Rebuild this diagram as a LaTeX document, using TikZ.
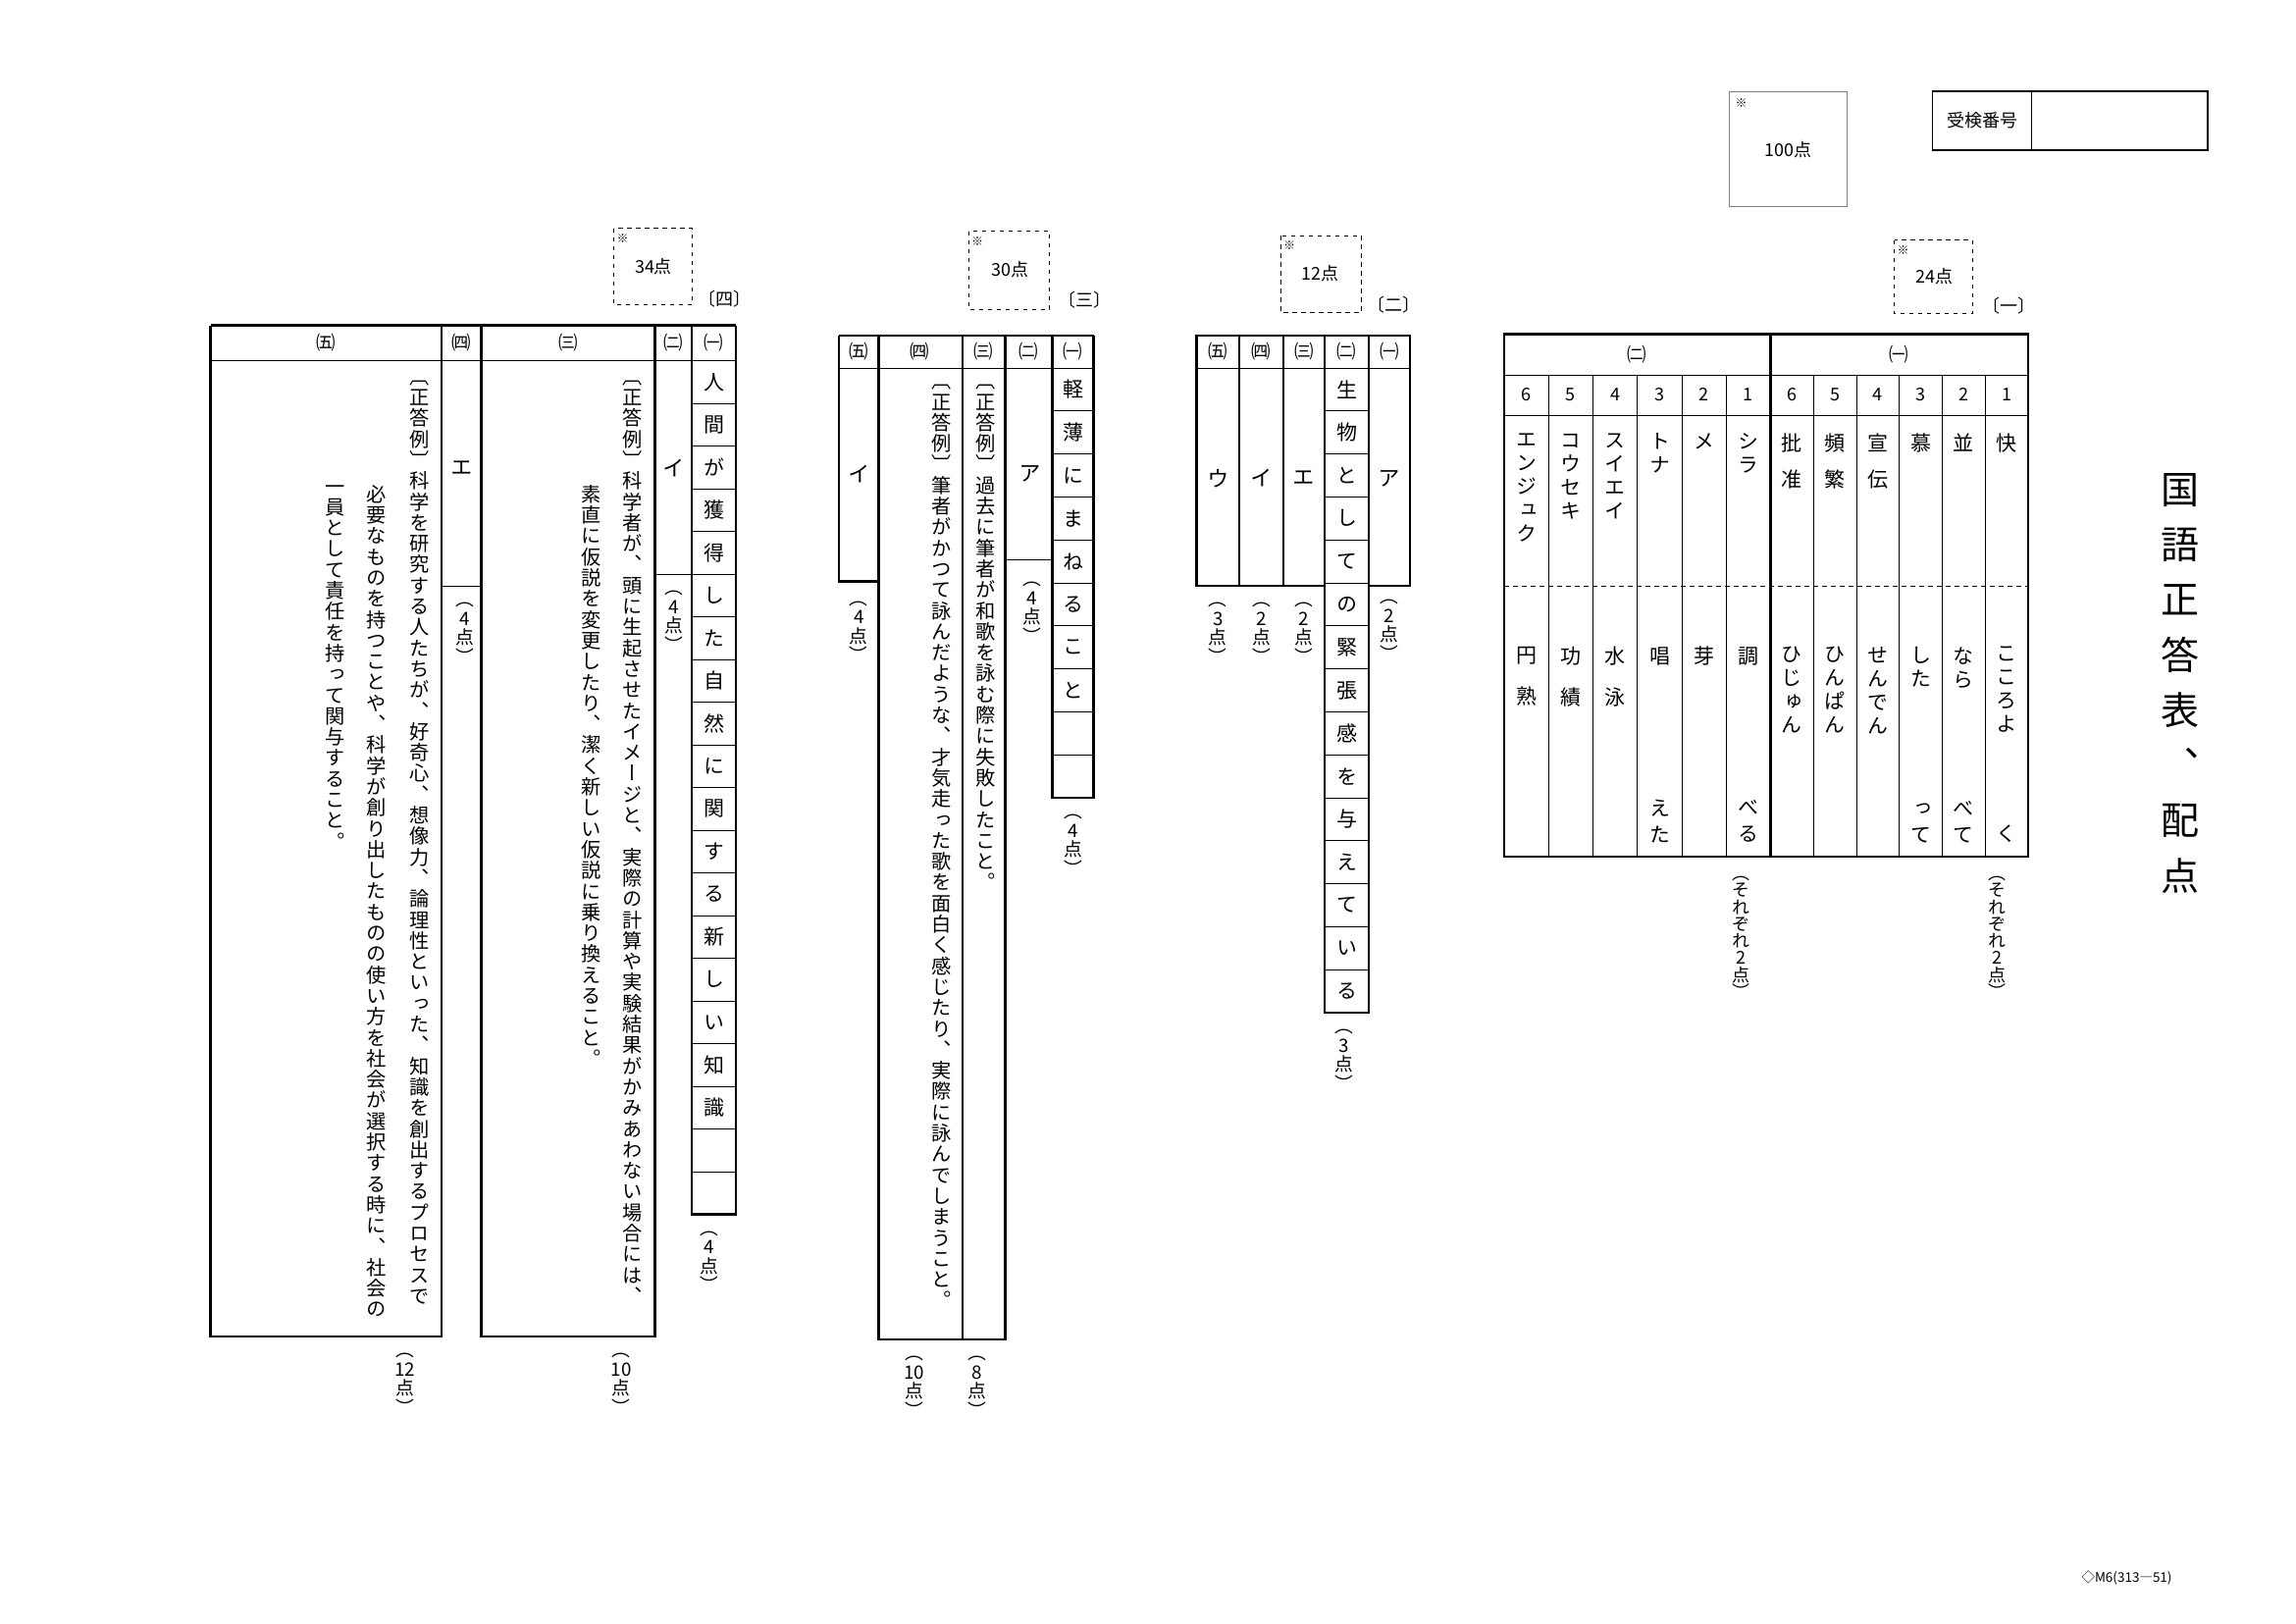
\documentclass[tikz,border=0pt]{standalone}
\usepackage{fontspec}
\setmainfont{Noto Sans CJK JP}[RawFeature=+vert]
\newfontfamily\hz{Noto Sans CJK JP}
\makeatletter
\newcommand\vt[2]{\vbox{\baselineskip=#1\lineskiplimit=-100pt\lineskip=0pt\vt@aux#2\relax}}
\def\vt@aux#1{\ifx\relax#1\else\hbox to 1.1em{\hss#1\hss}\expandafter\vt@aux\fi}
\makeatother
\tikzset{
 tk/.style={line width=1.4pt},
 tn/.style={line width=0.6pt},
 hd/.style={font=\hz\fontsize{13}{14}\selectfont},
 ans/.style={font=\fontsize{15}{16}\selectfont},
 ptl/.style={anchor=north,font=\fontsize{12.5}{13}\selectfont},
 body/.style={anchor=north,font=\fontsize{13.5}{14}\selectfont},
 cell/.style={font=\fontsize{14}{15}\selectfont},
 dbox/.style={draw,dashed,line width=0.5pt},
 sec/.style={font=\hz\fontsize{12}{13}\selectfont},
}
\begin{document}
\begin{tikzpicture}[x=1pt,y=-1pt]
\useasboundingbox (0,0) rectangle (1560,1103);
% ---------- header ----------
\node[anchor=north,font=\fontsize{26}{27}\selectfont] (title) at (1481,318) {\vt{37.5pt}{国語正答表、配点}};
\draw[line width=0.9pt] (1313,62) rectangle (1500,102);
\draw[line width=0.7pt] (1380,62) -- (1380,102);
\node[sec] (jk) at (1347,82) {受検番号};
\draw[line width=0.5pt,gray] (1175,62) rectangle (1255,140);
\node[font=\hz\fontsize{8}{8}\selectfont] (k100) at (1183,70) {※};
\node[sec] (p100) at (1215,102) {100点};
% ---------- section 一 ----------
\draw[dbox] (1287,163) rectangle (1340,213);
\node[font=\hz\fontsize{8}{8}\selectfont] (k24) at (1293,170) {※};
\node[sec] (p24) at (1314,188) {24点};
\node[sec] (s1) at (1365,208) {〔一〕};
\draw[tk] (1022,227) rectangle (1378,582);
\draw[tk] (1203,227) -- (1203,582);
\draw[tn] (1022,255) -- (1378,255) (1022,282) -- (1378,282);
\foreach \k in {1,...,5}{
 \draw[tn] ({1203+29.17*\k},255) -- ({1203+29.17*\k},582);
 \draw[tn] ({1022+30.17*\k},255) -- ({1022+30.17*\k},582);}
\draw[tn,dashed] (1022,398) -- (1378,398);
\node[hd] (h12) at (1112,241) {㈡};
\node[hd] (h11) at (1290,241) {㈠};
\foreach \k in {1,...,6}{
 \node[sec] at ({1378-29.17*(\k-0.5)},268) {\k};
 \node[sec] at ({1203-30.17*(\k-0.5)},268) {\k};}
\node[cell,anchor=north] (a1) at (1363.4,291) {\vt{25pt}{快}};
\node[cell,anchor=north] (a2) at (1334.2,291) {\vt{25pt}{並}};
\node[cell,anchor=north] (a3) at (1305.0,291) {\vt{25pt}{慕}};
\node[cell,anchor=north] (a4) at (1275.9,291) {\vt{25pt}{宣伝}};
\node[cell,anchor=north] (a5) at (1246.7,291) {\vt{25pt}{頻繁}};
\node[cell,anchor=north] (a6) at (1217.6,291) {\vt{25pt}{批准}};
\node[cell,anchor=north] (b1) at (1363.4,436) {\vt{16pt}{こころよ}};
\node[cell,anchor=north] (b2) at (1334.2,436) {\vt{16pt}{なら}};
\node[cell,anchor=north] (b3) at (1305.0,436) {\vt{16pt}{した}};
\node[cell,anchor=north] (b4) at (1275.9,436) {\vt{16pt}{せんでん}};
\node[cell,anchor=north] (b5) at (1246.7,436) {\vt{16pt}{ひんぱん}};
\node[cell,anchor=north] (b6) at (1217.6,436) {\vt{16pt}{ひじゅん}};
\node[cell,anchor=south] (c1) at (1363.4,576) {\vt{18pt}{く}};
\node[cell,anchor=south] (c2) at (1334.2,576) {\vt{18pt}{べて}};
\node[cell,anchor=south] (c3) at (1305.0,576) {\vt{18pt}{って}};
\node[cell,anchor=north] (d1) at (1188,291) {\vt{16pt}{シラ}};
\node[cell,anchor=north] (d2) at (1158,291) {\vt{16pt}{メ}};
\node[cell,anchor=north] (d3) at (1128,291) {\vt{16pt}{トナ}};
\node[cell,anchor=north] (d4) at (1097.6,291) {\vt{16pt}{スイエイ}};
\node[cell,anchor=north] (d5) at (1067.4,291) {\vt{16pt}{コウセキ}};
\node[cell,anchor=north] (d6) at (1037.3,291) {\vt{16pt}{エンジュク}};
\node[cell,anchor=north] (e1) at (1188,436) {\vt{28pt}{調}};
\node[cell,anchor=north] (e2) at (1158,436) {\vt{28pt}{芽}};
\node[cell,anchor=north] (e3) at (1128,436) {\vt{28pt}{唱}};
\node[cell,anchor=north] (e4) at (1097.6,436) {\vt{28pt}{水泳}};
\node[cell,anchor=north] (e5) at (1067.4,436) {\vt{28pt}{功績}};
\node[cell,anchor=north] (e6) at (1037.3,436) {\vt{28pt}{円熟}};
\node[cell,anchor=south] (f1) at (1188,576) {\vt{18pt}{べる}};
\node[cell,anchor=south] (f3) at (1128,576) {\vt{18pt}{えた}};
\node[ptl,font=\fontsize{12}{12}\selectfont] (pa) at (1357,592) {\vt{11.5pt}{（それぞれ2点）}};
\node[ptl,font=\fontsize{12}{12}\selectfont] (pb) at (1183,592) {\vt{11.5pt}{（それぞれ2点）}};
% ---------- section 二 ----------
\draw[dbox] (870,160) rectangle (925,212);
\node[font=\hz\fontsize{8}{8}\selectfont] (k12) at (876,167) {※};
\node[sec] (p12) at (897,186) {12点};
\node[sec] (s2) at (947,207) {〔二〕};
\draw[tk] (813,228) -- (958,228) -- (958,398) -- (930,398) -- (930,688) -- (900,688) -- (900,398) -- (813,398) -- cycle;
\draw[tk] (842,228) -- (842,398) (872,228) -- (872,398) (900,228) -- (900,398) (930,228) -- (930,398);
\draw[tn] (813,250) -- (958,250);
\foreach \k in {1,...,14}{\draw[tn] (900,{250+29.2*\k}) -- (930,{250+29.2*\k});}
\foreach \c/\k in {生/0,物/1,と/2,し/3,て/4,の/5,緊/6,張/7,感/8,を/9,与/10,え/11,て/12,い/13,る/14}{
 \node[cell] at (915,{264.6+29.2*\k}) {\c};}
\node[hd] at (827.5,239) {㈤};
\node[hd] at (857,239) {㈣};
\node[hd] at (886,239) {㈢};
\node[hd] at (915,239) {㈡};
\node[hd] at (944,239) {㈠};
\node[ans] (q25) at (827.5,325) {ウ};
\node[ans] (q24) at (857,325) {イ};
\node[ans] (q23) at (886,325) {エ};
\node[ans] (q21) at (944,325) {ア};
\node[ptl] at (827.5,406) {\vt{13pt}{（3点）}};
\node[ptl] at (857,406) {\vt{13pt}{（2点）}};
\node[ptl] at (886,406) {\vt{13pt}{（2点）}};
\node[ptl] at (944,404) {\vt{13pt}{（2点）}};
\node[ptl] at (913,696) {\vt{13pt}{（3点）}};
% ---------- section 三 ----------
\draw[dbox] (658,157) rectangle (713,210);
\node[font=\hz\fontsize{8}{8}\selectfont] (k30) at (664,164) {※};
\node[sec] (p30) at (686,183) {30点};
\node[sec] (s3) at (737,204) {〔三〕};
\draw[tk] (570,228) -- (743,228);
\draw[tk] (570,228) -- (570,395) -- (597,395);
\draw[tk] (597,228) -- (597,910) -- (683,910) -- (683,228);
\draw[tk] (654,228) -- (654,910);
\draw[tk] (715,228) -- (715,542) -- (743,542) -- (743,228);
\draw[tn] (570,250) -- (743,250);
\draw[tn] (683,380) -- (715,380);
\foreach \k in {1,...,9}{\draw[tn] (715,{250+29.2*\k}) -- (743,{250+29.2*\k});}
\foreach \c/\k in {軽/0,薄/1,に/2,ま/3,ね/4,る/5,こ/6,と/7}{
 \node[cell] at (729,{264.6+29.2*\k}) {\c};}
\node[hd] at (583.5,239) {㈤};
\node[hd] at (625,239) {㈣};
\node[hd] at (668,239) {㈢};
\node[hd] at (699,239) {㈡};
\node[hd] at (729,239) {㈠};
\node[ans] (q35) at (583.5,322) {イ};
\node[ans] (q32) at (700,322) {ア};
\node[body] (t33) at (670,258) {\vt{14.2pt}{〔正答例〕過去に筆者が和歌を詠む際に失敗したこと。}};
\node[body] (t34) at (640,258) {\vt{14.2pt}{〔正答例〕筆者がかつて詠んだような、才気走った歌を面白く感じたり、実際に詠んでしまうこと。}};
\node[ptl] at (583.5,405) {\vt{13pt}{（4点）}};
\node[ptl] at (701,392) {\vt{13pt}{（4点）}};
\node[ptl] at (729,550) {\vt{13pt}{（4点）}};
\node[ptl] at (621,918) {\vt{13pt}{（{10}点）}};
\node[ptl] at (664,918) {\vt{13pt}{（8点）}};
% ---------- section 四 ----------
\draw[dbox] (417,155) rectangle (470,207);
\node[font=\hz\fontsize{8}{8}\selectfont] (k34) at (423,162) {※};
\node[sec] (p34) at (444,181) {34点};
\node[sec] (s4) at (492,203) {〔四〕};
\draw[tk] (143,221) -- (500,221);
\draw[tk] (143,221) -- (143,908) -- (300,908) -- (300,221);
\draw[tk] (327,221) -- (327,908) -- (445,908) -- (445,221);
\draw[tn] (300,398) -- (327,398);
\draw[tk] (470,221) -- (470,825) -- (500,825) -- (500,221);
\draw[tn] (445,390) -- (470,390);
\draw[tn] (143,245) -- (500,245);
\foreach \k in {1,...,19}{\draw[tn] (470,{245+29*\k}) -- (500,{245+29*\k});}
\foreach \c/\k in {人/0,間/1,が/2,獲/3,得/4,し/5,た/6,自/7,然/8,に/9,関/10,す/11,る/12,新/13,し/14,い/15,知/16,識/17}{
 \node[cell] at (485,{259.5+29*\k}) {\c};}
\node[hd] at (221.5,233) {㈤};
\node[hd] at (313.5,233) {㈣};
\node[hd] at (386,233) {㈢};
\node[hd] at (457.5,233) {㈡};
\node[hd] at (485,233) {㈠};
\node[ans] (q44) at (313.5,318) {エ};
\node[ans] (q42) at (457.5,318) {イ};
\node[body] (t431) at (430,255) {\vt{14.2pt}{〔正答例〕科学者が、頭に生起させたイメージと、実際の計算や実験結果がかみあわない場合には、}};
\node[body] (t432) at (402,326) {\vt{14.2pt}{素直に仮説を変更したり、潔く新しい仮説に乗り換えること。}};
\node[body] (t451) at (285,255) {\vt{14.2pt}{〔正答例〕科学を研究する人たちが、好奇心、想像力、論理性といった、知識を創出するプロセスで}};
\node[body] (t452) at (256,326) {\vt{14.2pt}{必要なものを持つことや、科学が創り出したものの使い方を社会が選択する時に、社会の}};
\node[body] (t453) at (228,326) {\vt{14.2pt}{一員として責任を持って関与すること。}};
\node[ptl] at (316,406) {\vt{13pt}{（4点）}};
\node[ptl] at (458,398) {\vt{13pt}{（4点）}};
\node[ptl] at (482,833) {\vt{13pt}{（4点）}};
\node[ptl] at (275,916) {\vt{13pt}{（{12}点）}};
\node[ptl] at (422,916) {\vt{13pt}{（{10}点）}};
\node[font=\hz\fontsize{9}{10}\selectfont] (ft) at (1445,1072) {◇M6(313―51)};
\end{tikzpicture}
\end{document}
